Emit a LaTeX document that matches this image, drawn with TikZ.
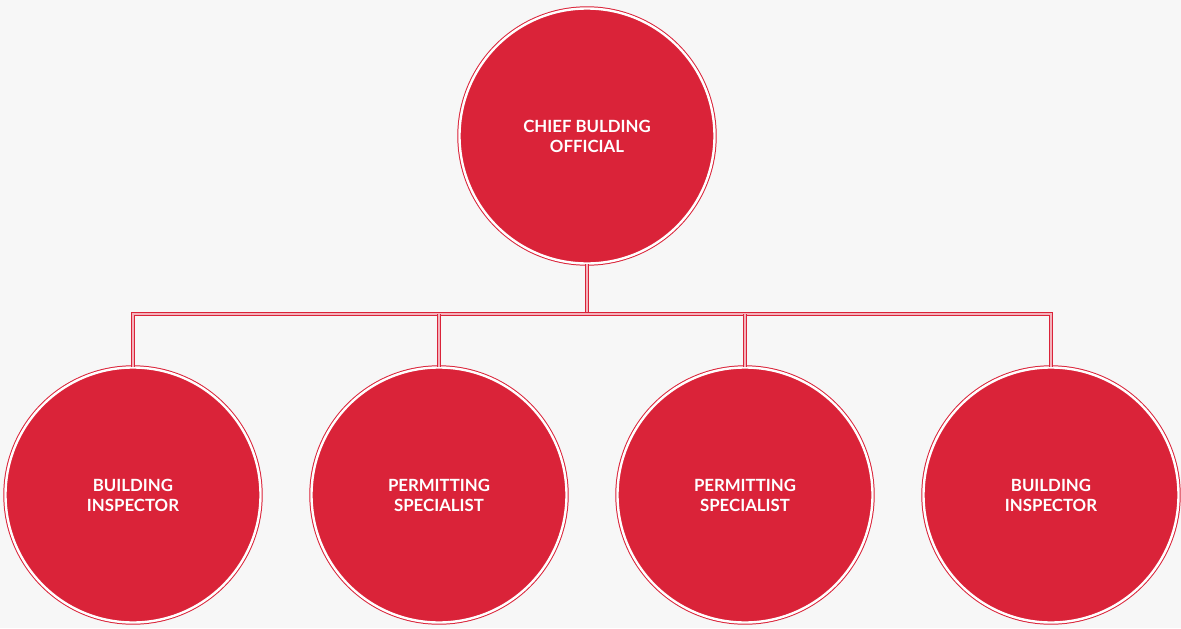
\documentclass[tikz,border=0pt]{standalone}
\usepackage{fontspec}
\setmainfont{Lato}[UprightFont=* Bold]
\definecolor{cred}{HTML}{DA2339}
\definecolor{cbg}{HTML}{F7F7F7}
\definecolor{cpink}{HTML}{F4B3BC}
\begin{document}
\begin{tikzpicture}[x=0.75pt,y=-0.75pt,
  role/.style={circle, minimum size=255*0.75pt, inner sep=0pt, fill=cred, draw=cred,
    line width=0.75pt, double=white, double distance=1.8pt, text=white,
    align=center, font=\fontsize{12.6}{15}\selectfont},
  conn/.style={draw=cred, line width=0.7pt, double=cpink, double distance=1.5pt}]
\fill[cbg] (0,0) rectangle (1181,628);
\useasboundingbox (0,0) rectangle (1181,628);
\node[role] (top) at (587,136) {CHIEF BULDING\\OFFICIAL};
\node[role] (b1) at (133,495) {BUILDING\\INSPECTOR};
\node[role] (b2) at (439,495) {PERMITTING\\SPECIALIST};
\node[role] (b3) at (745,495) {PERMITTING\\SPECIALIST};
\node[role] (b4) at (1051,495) {BUILDING\\INSPECTOR};
\coordinate (bus) at (587,314);
\draw[conn] (top.south) -- (bus);
\draw[conn] (b1.north) |- (bus) -| (b4.north);
\draw[conn] (bus -| b2.north) -- (b2.north);
\draw[conn] (bus -| b3.north) -- (b3.north);
\end{tikzpicture}
\end{document}
